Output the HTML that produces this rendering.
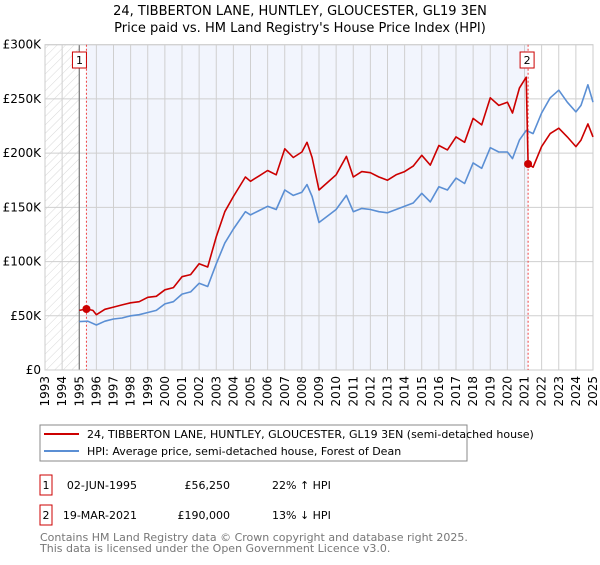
<!DOCTYPE html>
<html><head><meta charset="utf-8"><style>
body{margin:0;background:#fff;font-family:"Liberation Sans","DejaVu Sans",sans-serif;}
svg text{font-family:"DejaVu Sans","Liberation Sans",sans-serif;}
</style></head><body>
<svg id="c" width="600" height="560" viewBox="0 0 600 560" xmlns="http://www.w3.org/2000/svg">
<defs><pattern id="hatch" width="6" height="6" patternUnits="userSpaceOnUse" patternTransform="rotate(45)"><line x1="0" y1="0" x2="0" y2="6" stroke="#d8d8d8" stroke-width="1"/></pattern></defs>
<text x="300" y="15" text-anchor="middle" font-size="13" fill="#000">24, TIBBERTON LANE, HUNTLEY, GLOUCESTER, GL19 3EN</text>
<text x="300" y="32" text-anchor="middle" font-size="13" fill="#000">Price paid vs. HM Land Registry's House Price Index (HPI)</text>
<g id="plot"></g>
<rect x="40" y="425" width="427" height="36" fill="#fff" stroke="#888"/>
<line x1="44" y1="434" x2="79" y2="434" stroke="#cc0000" stroke-width="2"/>
<text x="87" y="438" font-size="11">24, TIBBERTON LANE, HUNTLEY, GLOUCESTER, GL19 3EN (semi-detached house)</text>
<line x1="44" y1="451" x2="79" y2="451" stroke="#5b8fd4" stroke-width="2"/>
<text x="87" y="455" font-size="11">HPI: Average price, semi-detached house, Forest of Dean</text>
<g>
<rect x="40" y="475" width="12" height="20" fill="#fff" stroke="#cc0000"/><text x="46" y="489" font-size="11" text-anchor="middle">1</text>
<text x="137" y="489" font-size="11" text-anchor="end">02-JUN-1995</text>
<text x="230" y="489" font-size="11" text-anchor="end">£56,250</text>
<text x="272" y="489" font-size="11">22% ↑ HPI</text></g>
<g>
<rect x="40" y="505" width="12" height="20" fill="#fff" stroke="#cc0000"/><text x="46" y="519" font-size="11" text-anchor="middle">2</text>
<text x="137" y="519" font-size="11" text-anchor="end">19-MAR-2021</text>
<text x="230" y="519" font-size="11" text-anchor="end">£190,000</text>
<text x="272" y="519" font-size="11">13% ↓ HPI</text></g>
<text x="40" y="541" font-size="11" fill="#777">Contains HM Land Registry data © Crown copyright and database right 2025.</text>
<text x="40" y="552" font-size="11" fill="#777">This data is licensed under the Open Government Licence v3.0.</text>
</svg>
<script>
const hpiYears=[1995,1995.5,1996,1996.5,1997,1997.5,1998,1998.5,1999,1999.5,2000,2000.5,2001,2001.5,2002,2002.5,2003,2003.5,2004,2004.7,2005,2005.5,2006,2006.5,2007,2007.5,2008,2008.3,2008.6,2009,2009.5,2010,2010.6,2011,2011.5,2012,2012.5,2013,2013.5,2014,2014.5,2015,2015.5,2016,2016.5,2017,2017.5,2018,2018.5,2019,2019.5,2020,2020.3,2020.7,2021.1,2021.5,2022,2022.5,2023,2023.5,2024,2024.3,2024.7,2025];
const hpiValues=[44.6,45,41.5,45,47,48,50,51,53,55,61,63,70,72,80,77,98,117,130,146,143,147,151,148,166,161,164,171,160,136,142,148,161,146,149,148,146,145,148,151,154,163,155,169,166,177,172,191,186,205,201,201,195,212,221,218,237,251,258,247,238,244,263,247];
const priceYears=[1995,1995.42,1995.8,1996,1996.5,1997,1997.5,1998,1998.5,1999,1999.5,2000,2000.5,2001,2001.5,2002,2002.5,2003,2003.5,2004,2004.7,2005,2005.5,2006,2006.5,2007,2007.5,2008,2008.3,2008.6,2009,2009.5,2010,2010.6,2011,2011.5,2012,2012.5,2013,2013.5,2014,2014.5,2015,2015.5,2016,2016.5,2017,2017.5,2018,2018.5,2019,2019.5,2020,2020.3,2020.7,2021.1,2021.21,2021.5,2022,2022.5,2023,2023.5,2024,2024.3,2024.7,2025];
const priceValues=[55,56.25,55,51,56,58,60,62,63,67,68,74,76,86,88,98,95,123,146,160,178,174,179,184,180,204,196,201,210,196,166,173,180,197,178,183,182,178,175,180,183,188,198,189,207,203,215,210,232,226,251,244,247,237,260,270,190,187,206,218,223,215,206,212,227,215];
const saleYears=[1995.42,2021.21];
const saleValues=[56.25,190];
const saleLabels=["1","2"];
const yTicks=[0,50,100,150,200,250,300];
const yTickLabels=["£0","£50K","£100K","£150K","£200K","£250K","£300K"];
const xTicks=[1993,1994,1995,1996,1997,1998,1999,2000,2001,2002,2003,2004,2005,2006,2007,2008,2009,2010,2011,2012,2013,2014,2015,2016,2017,2018,2019,2020,2021,2022,2023,2024,2025];

const X0=45,X1=593,Y0=370,Y1=44.7,xmin=1993,xmax=2025,ymax=300;
const xs=v=>X0+(v-xmin)/(xmax-xmin)*(X1-X0);
const ys=v=>Y0-v/ymax*(Y0-Y1);
const NS="http://www.w3.org/2000/svg";
const g=document.getElementById('plot');
function mk(t,a,p){const e=document.createElementNS(NS,t);for(const k in a)e.setAttribute(k,a[k]);(p||g).appendChild(e);return e;}

const bg=mk('rect',{x:X0,y:Y1,width:X1-X0,height:Y0-Y1,fill:'#fff'});


const hat=mk('rect',{x:X0,y:Y1,width:xs(1995)-X0,height:Y0-Y1,fill:'url(#hatch)'});


const sh=mk('rect',{x:xs(saleYears[0]),y:Y1,width:xs(saleYears[1])-xs(saleYears[0]),height:Y0-Y1,fill:'#f2f5fd'});



xTicks.forEach((t,i)=>{
  const l=mk('line',{x1:xs(t),x2:xs(t),y1:Y1,y2:Y0,stroke:'#cfcfcf','stroke-width':1});
  
  
  const tx=mk('text',{x:0,y:0,'font-size':12,'text-anchor':'end',transform:`translate(${xs(t)+4},${Y0+6}) rotate(-90)`});
  tx.textContent=t;
  
  
});
yTicks.forEach((t,i)=>{
  const l=mk('line',{x1:X0,x2:X1,y1:ys(t),y2:ys(t),stroke:'#cfcfcf','stroke-width':1});
  
  
  const tx=mk('text',{x:X0-4,y:ys(t)+4,'font-size':12,'text-anchor':'end'});
  tx.textContent=yTickLabels[i];
  
  
});
const bx=mk('line',{x1:xs(1995),x2:xs(1995),y1:Y1,y2:Y0,stroke:'#666','stroke-width':1});


const fr=mk('rect',{x:X0,y:Y1,width:X1-X0,height:Y0-Y1,fill:'none',stroke:'#ccc'});



saleYears.forEach((s,i)=>{
  const l=mk('line',{x1:xs(s),x2:xs(s),y1:Y1,y2:Y0,stroke:'#ee4444','stroke-width':1,'stroke-dasharray':'2,2'});
  
  
});

function path(xa,va,col,name){
  const d=xa.map((x,i)=>(i?'L':'M')+xs(x).toFixed(1)+','+ys(va[i]).toFixed(1)).join('');
  const p=mk('path',{d:d,fill:'none',stroke:col,'stroke-width':1.6,'stroke-linejoin':'round'});
  
  
}
path(hpiYears,hpiValues,'#5b8fd4','hpi-line');
path(priceYears,priceValues,'#cc0000','price-paid-line');

saleYears.forEach((s,i)=>{
  const c=mk('circle',{cx:xs(s),cy:ys(saleValues[i]),r:4,fill:'#cc0000'});
  
  
  const r=mk('rect',{x:(i?xs(s)-8:xs(s)-14),y:52,width:14,height:16,fill:'#fff',stroke:'#cc0000'});
  
  
  const t=mk('text',{x:(i?xs(s)-1:xs(s)-7),y:64,'font-size':11,'text-anchor':'middle'});
  t.textContent=saleLabels[i];
  
  
});
</script>
</body></html>
